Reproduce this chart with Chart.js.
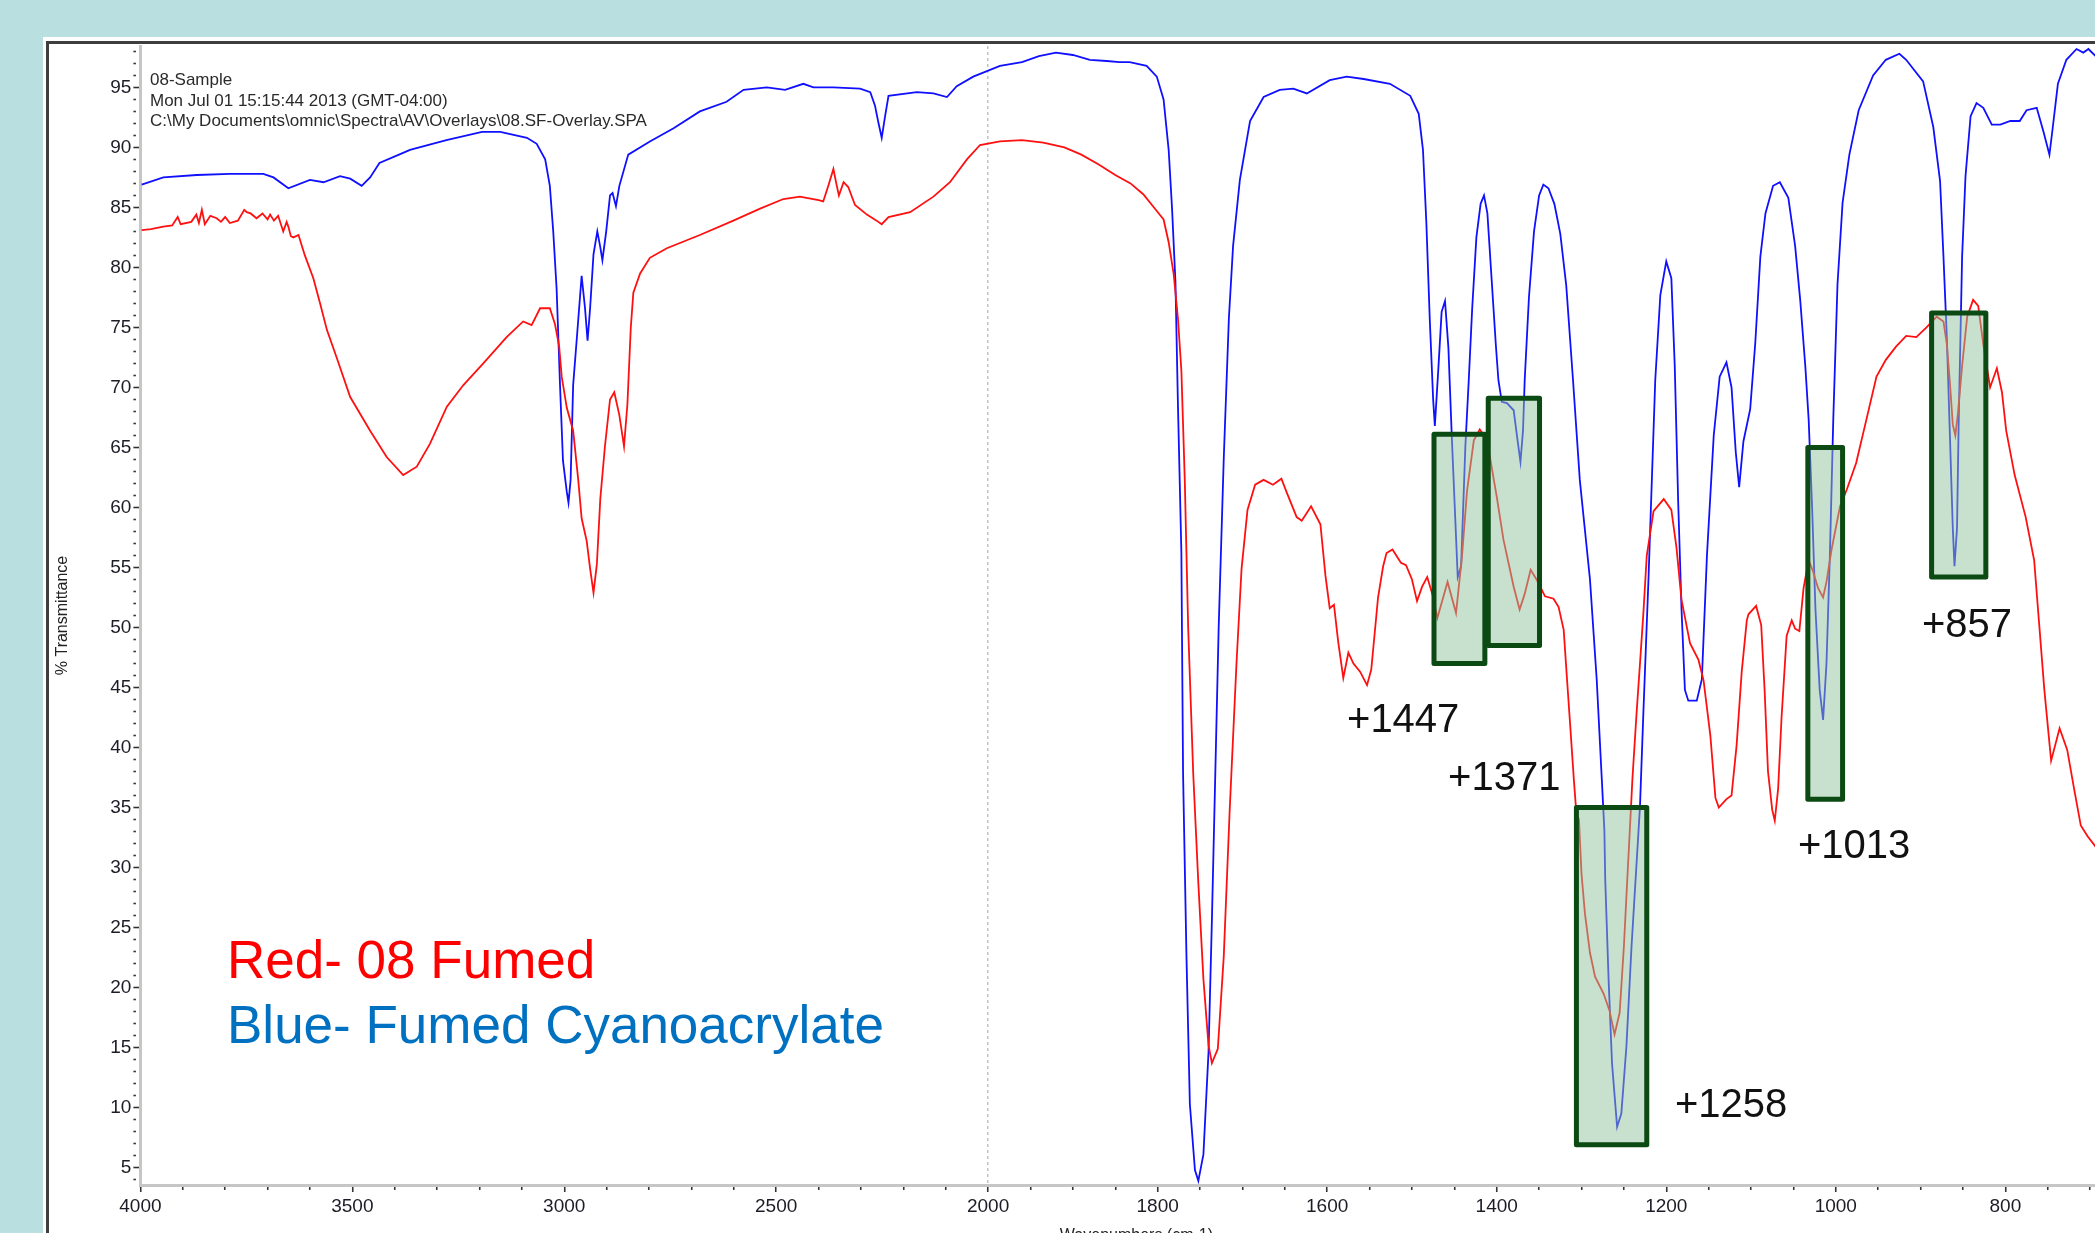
<!DOCTYPE html>
<html>
<head>
<meta charset="utf-8">
<script src="https://cdn.jsdelivr.net/npm/chart.js@4.4.1/dist/chart.umd.min.js"></script>
<style>
  html, body { margin: 0; padding: 0; width: 2095px; height: 1233px; overflow: hidden; background: #b9dfe1; }
  #panel { position: absolute; left: 43px; top: 37px; width: 2300px; height: 1400px; background: #ffffff; }
  #frame { position: absolute; left: 46px; top: 41px; width: 2300px; height: 1400px; border: 3px solid #3e3e3e; box-sizing: border-box; }
  #c { position: absolute; left: 0; top: 0; }
  .hdr { position: absolute; left: 150px; top: 70px; font: 17px "Liberation Sans", Arial, sans-serif; line-height: 20.5px; color: #2a2a2a; white-space: pre; }
  .leg { position: absolute; left: 227px; top: 927px; font: 53px "Liberation Sans", Arial, sans-serif; line-height: 65px; white-space: pre; }
</style>
</head>
<body>
<div id="panel"></div>
<div id="frame"></div>
<canvas id="c" width="2200" height="1280"></canvas>
<div class="hdr">08-Sample
Mon Jul 01 15:15:44 2013 (GMT-04:00)
C:\My Documents\omnic\Spectra\AV\Overlays\08.SF-Overlay.SPA</div>
<div class="leg"><span style="color:#ff0000">Red- 08 Fumed</span>
<span style="color:#0070c0">Blue- Fumed Cyanoacrylate</span></div>
<script>
// ---------------- data ----------------
const blueWavenumber = [3997,3946,3867,3789,3710,3686,3651,3600,3568,3529,3505,3478,3458,3436,3383,3364,3278,3194,3151,3088,3065,3045,3034,3026,3018,3010,3003,2994,2990,2985,2979,2969,2959,2951,2945,2939,2931,2922,2915,2910,2901,2892,2886,2878,2870,2849,2798,2742,2680,2617,2577,2522,2479,2436,2412,2365,2302,2278,2267,2259,2251,2243,2235,2168,2129,2097,2074,2035,1986,1960,1940,1920,1900,1880,1860,1845,1833,1813,1801,1793,1787,1783,1779,1776,1772,1770,1766,1762,1756,1752,1746,1740,1736,1732,1728,1722,1716,1711,1703,1691,1675,1656,1640,1624,1597,1577,1557,1526,1502,1492,1487,1483,1479,1475,1473,1469,1465,1461,1457,1453,1449,1446,1442,1437,1433,1429,1424,1419,1415,1411,1406,1401,1398,1394,1388,1380,1376,1372,1369,1367,1362,1356,1350,1345,1339,1332,1325,1318,1310,1302,1290,1282,1276,1273,1272,1268,1264,1258,1253,1247,1241,1235,1231,1227,1221,1217,1213,1207,1200,1194,1190,1186,1182,1178,1174,1164,1158,1152,1144,1137,1129,1123,1118,1114,1109,1101,1095,1089,1083,1074,1066,1056,1048,1042,1036,1032,1028,1024,1019,1015,1011,1007,1003,998,992,984,973,956,941,925,917,897,885,877,873,869,865,862,860,857,855,851,847,841,834,826,816,806,794,783,775,763,755,748,744,738,728,716,708,702,692];
const blueTransmittance = [86.9,87.5,87.7,87.8,87.8,87.5,86.6,87.3,87.1,87.6,87.4,86.8,87.5,88.7,89.5,89.8,90.6,91.3,91.3,90.8,90.3,89.0,86.8,83.0,78.2,70.2,63.9,61.3,60.4,62.3,70.2,74.7,79.3,76.6,73.9,76.6,81.1,83.0,81.7,80.6,83.0,86.0,86.2,85.1,86.8,89.4,90.5,91.6,93.0,93.8,94.8,95.0,94.8,95.3,95.0,95.0,94.9,94.6,93.5,92.1,90.8,92.6,94.3,94.6,94.5,94.2,95.1,95.9,96.8,97.1,97.6,97.9,97.7,97.3,97.2,97.1,97.1,96.8,95.9,94.0,89.8,84.9,78.8,68.4,56.2,37.8,22.6,10.3,4.8,3.9,6.1,14.6,25.6,37.8,50.0,64.1,75.7,81.8,87.3,92.2,94.2,94.8,94.9,94.5,95.6,95.9,95.7,95.3,94.3,92.8,89.8,83.7,75.7,69.0,66.8,71.4,76.3,77.2,73.3,65.9,59.2,54.2,55.1,65.1,70.6,76.5,82.5,85.3,86.0,84.5,79.0,73.5,70.6,68.8,68.7,68.1,65.9,63.8,66.4,70.6,77.5,83.0,86.0,86.9,86.6,85.3,82.8,78.5,70.6,62.3,54.0,45.6,37.3,33.1,29.0,20.6,13.7,8.4,9.5,15.1,23.4,30.4,35.1,42.9,54.0,62.3,70.6,77.7,80.5,79.1,71.8,60.6,51.5,44.8,43.9,43.9,45.7,56.0,66.0,70.9,72.1,70.0,64.6,61.7,65.5,68.2,73.7,80.9,84.5,86.8,87.1,85.8,81.8,77.3,71.8,67.3,60.1,51.5,44.8,42.3,47.0,56.0,67.3,78.6,85.4,89.4,93.1,96.0,97.3,97.8,97.3,95.5,91.7,87.2,80.9,74.1,65.1,58.3,55.1,58.3,67.3,80.9,87.6,92.6,93.7,93.3,91.9,91.9,92.2,92.2,93.1,93.3,91.3,89.4,91.7,95.3,97.3,98.2,97.9,98.2,97.5];

const redWavenumber = [3997,3975,3946,3925,3912,3905,3880,3868,3862,3855,3848,3835,3820,3810,3800,3789,3770,3755,3749,3740,3726,3712,3700,3694,3685,3675,3663,3655,3651,3645,3639,3627,3612,3592,3576,3560,3537,3505,3458,3419,3380,3348,3317,3277,3238,3191,3136,3097,3077,3057,3034,3022,3012,3006,2994,2979,2967,2959,2947,2939,2931,2923,2915,2904,2892,2882,2870,2859,2851,2843,2837,2821,2798,2758,2680,2601,2538,2483,2444,2400,2389,2377,2365,2357,2352,2341,2330,2314,2286,2263,2251,2235,2184,2129,2090,2050,2019,1986,1960,1935,1910,1890,1870,1850,1832,1817,1801,1793,1787,1781,1776,1772,1768,1764,1758,1752,1746,1740,1736,1729,1722,1715,1707,1701,1694,1685,1675,1664,1654,1648,1636,1630,1619,1608,1602,1597,1592,1587,1581,1575,1569,1561,1553,1548,1540,1534,1530,1523,1513,1507,1500,1494,1488,1482,1476,1470,1458,1448,1441,1435,1427,1420,1413,1408,1400,1392,1380,1373,1367,1360,1353,1343,1333,1327,1321,1317,1313,1309,1306,1303,1300,1296,1290,1284,1274,1267,1261,1255,1250,1246,1243,1240,1235,1231,1227,1223,1215,1203,1194,1188,1182,1172,1162,1156,1148,1142,1138,1129,1123,1117,1111,1105,1103,1094,1088,1084,1080,1075,1072,1068,1064,1058,1052,1048,1043,1038,1032,1027,1021,1015,1011,1005,995,987,976,964,952,941,929,917,905,893,881,873,869,865,862,859,856,851,845,838,832,826,818,810,804,799,789,776,766,760,754,746,736,727,719,711,703,692];
const redTransmittance = [83.1,83.2,83.4,83.5,84.2,83.6,83.8,84.4,83.7,84.8,83.6,84.3,84.1,83.8,84.2,83.7,83.9,84.8,84.6,84.5,84.1,84.5,84.0,84.4,83.9,84.3,83.0,83.8,83.4,82.6,82.5,82.7,81.0,79.1,77.0,74.8,72.5,69.2,66.4,64.2,62.7,63.4,65.3,68.4,70.2,72.0,74.2,75.5,75.2,76.6,76.6,75.3,73.4,70.9,68.3,66.4,62.3,59.1,57.2,54.9,52.9,55.3,60.7,65.1,69.0,69.6,67.7,65.1,68.6,75.0,77.9,79.5,80.8,81.6,82.7,83.9,84.9,85.7,85.9,85.6,85.5,86.8,88.2,86.8,86.0,87.1,86.7,85.2,84.4,83.9,83.6,84.2,84.6,85.9,87.1,89.0,90.2,90.5,90.6,90.4,90.0,89.4,88.6,87.7,87.0,86.1,84.7,84.0,82.1,79.4,75.7,71.4,62.3,50.0,37.8,28.7,20.7,15.2,13.7,14.9,22.6,34.8,47.0,54.9,59.8,61.9,62.3,61.9,62.4,61.3,59.2,58.9,60.1,58.6,54.3,51.6,51.9,48.8,45.8,47.9,47.0,46.3,45.2,46.5,52.5,55.1,56.2,56.5,55.4,55.2,54.0,52.2,53.4,54.2,52.8,50.8,53.8,51.2,55.9,61.4,65.6,66.5,65.8,64.2,60.9,57.3,53.4,51.5,52.8,54.8,54.0,52.6,52.4,51.7,49.8,45.6,41.5,37.3,34.5,34.0,29.5,26.2,22.9,20.9,19.5,18.1,16.1,17.9,23.4,29.0,33.1,37.3,42.9,47.0,51.2,56.0,59.7,60.7,59.8,56.7,52.3,48.7,47.3,45.6,41.0,35.8,35.0,35.7,36.0,40.2,46.3,50.6,51.1,51.8,50.2,44.8,38.0,34.8,33.9,36.6,42.5,49.3,50.6,49.9,49.7,53.3,55.6,54.7,53.3,52.5,53.8,56.5,60.1,61.5,63.7,67.3,70.9,72.3,73.4,74.3,74.2,75.0,75.9,75.5,73.6,70.0,66.9,66.0,67.8,71.8,75.9,77.3,76.8,73.6,70.0,71.6,69.6,66.4,62.7,59.2,55.6,50.2,44.8,38.9,41.6,39.8,36.6,33.5,32.6,31.6];

// highlighted peak regions (wavenumber span and %T span) and their labels
const boxHighWavenumber = [1474, 1410, 1306, 1033, 887];
const boxLowWavenumber  = [1414, 1349.5, 1223, 992, 823];
const boxTopT    = [66.1, 69.1, 35.0, 65.0, 76.2];
const boxBottomT = [47.0, 48.5, 6.9, 35.7, 54.2];
const peakLabels = ['+1447', '+1371', '+1258', '+1013', '+857'];
const peakLabelWavenumber = [1576.6, 1457.4, 1189.7, 1044.6, 898.3];
const peakLabelT = [42.25, 37.35, 10.15, 31.75, 50.15];

// axis ticks
const xMajorTicks = [4000, 3500, 3000, 2500, 2000, 1800, 1600, 1400, 1200, 1000, 800];
const yMajorTicks = [5, 10, 15, 20, 25, 30, 35, 40, 45, 50, 55, 60, 65, 70, 75, 80, 85, 90, 95];
const X_MAX = 4000, X_MIN = 650, X_SPLIT = 2000, X_COMPRESS = 0.5;
const Y_MIN = 3.55, Y_MAX = 98.45;

// ---------------- axis with the OMNIC-style scale change at 2000 cm-1 ----------------
class SplitWavenumberScale extends Chart.LinearScale {
  static id = 'splitWavenumber';
  _toU(v) {
    return v >= X_SPLIT ? (this.max - v) * X_COMPRESS
                        : (this.max - X_SPLIT) * X_COMPRESS + (X_SPLIT - v);
  }
  _fromU(u) {
    const uS = (this.max - X_SPLIT) * X_COMPRESS;
    return u <= uS ? this.max - u / X_COMPRESS : X_SPLIT - (u - uS);
  }
  getPixelForValue(v) {
    if (v === null || v === undefined || isNaN(v)) return NaN;
    return this.getPixelForDecimal(this._toU(v) / this._toU(this.min));
  }
  getValueForPixel(p) {
    return this._fromU(this.getDecimalForPixel(p) * this._toU(this.min));
  }
}
Chart.register(SplitWavenumberScale);

const xTickValues = [];
for (let w = X_MAX; w > X_SPLIT; w -= 100) xTickValues.push(w);
for (let w = X_SPLIT; w >= X_MIN; w -= 50) xTickValues.push(w);
const yTickValues = [];
for (let v = 4; v <= 98; v++) yTickValues.push(v);

const toPoints = (ws, ts) => ws.map((w, i) => ({ x: w, y: ts[i] }));

const FONT = '"Liberation Sans", Arial, sans-serif';
const TICK_FONT = { family: '"Liberation Sans Narrow", "Liberation Sans", Arial, sans-serif', size: 19 };

const peakBoxes = {
  id: 'peakBoxes',
  afterDatasetsDraw(chart) {
    const { ctx, scales: { x, y } } = chart;
    ctx.save();
    for (let i = 0; i < boxHighWavenumber.length; i++) {
      const x1 = x.getPixelForValue(boxHighWavenumber[i]);
      const x2 = x.getPixelForValue(boxLowWavenumber[i]);
      const y1 = y.getPixelForValue(boxTopT[i]);
      const y2 = y.getPixelForValue(boxBottomT[i]);
      ctx.fillStyle = 'rgba(145,193,157,0.5)';
      ctx.fillRect(x1, y1, x2 - x1, y2 - y1);
      ctx.lineWidth = 5;
      ctx.lineJoin = 'round';
      ctx.strokeStyle = '#0b4a12';
      ctx.strokeRect(x1, y1, x2 - x1, y2 - y1);
    }
    ctx.fillStyle = '#111111';
    ctx.font = '40px ' + FONT;
    ctx.textBaseline = 'middle';
    ctx.textAlign = 'left';
    for (let i = 0; i < peakLabels.length; i++) {
      ctx.fillText(peakLabels[i], x.getPixelForValue(peakLabelWavenumber[i]), y.getPixelForValue(peakLabelT[i]));
    }
    ctx.restore();
  }
};

Chart.defaults.font.family = FONT;

new Chart(document.getElementById('c'), {
  type: 'line',
  data: {
    datasets: [
      { label: 'Red- 08 Fumed', data: toPoints(redWavenumber, redTransmittance),
        borderColor: '#ff1010', borderWidth: 1.8, pointRadius: 0, fill: false, tension: 0 },
      { label: 'Blue- Fumed Cyanoacrylate', data: toPoints(blueWavenumber, blueTransmittance),
        borderColor: '#1010ff', borderWidth: 1.8, pointRadius: 0, fill: false, tension: 0 }
    ]
  },
  options: {
    responsive: false,
    animation: false,
    events: [],
    layout: { padding: { left: 0, top: 46, right: 67.5, bottom: 0 } },
    plugins: { legend: { display: false }, tooltip: { enabled: false }, title: { display: false } },
    scales: {
      x: {
        type: 'splitWavenumber',
        min: X_MIN, max: X_MAX, bounds: 'data',
        afterFit(s) { s.height = 95; },
        afterBuildTicks(s) { s.ticks = xTickValues.map(v => ({ value: v })); },
        ticks: {
          autoSkip: false, maxRotation: 0, minRotation: 0, padding: 3,
          color: '#1c1c26', font: TICK_FONT,
          callback: v => xMajorTicks.includes(v) ? String(v) : ''
        },
        grid: {
          drawOnChartArea: true,
          color: c => (c.tick && c.tick.value === X_SPLIT) ? '#c2c2c2' : 'rgba(0,0,0,0)',
          lineWidth: 1.5,
          tickLength: 7,
          tickColor: '#333333',
          tickWidth: 1.6,
          tickBorderDash: c => (c.tick && xMajorTicks.includes(c.tick.value)) ? [] : [3, 30]
        },
        border: { display: true, color: '#c6c6c6', width: 3, dash: [3, 3] },
        title: { display: true, text: 'Wavenumbers (cm-1)', color: '#222', font: { size: 16, family: FONT }, padding: { top: 0, bottom: 35 } }
      },
      y: {
        type: 'linear',
        min: Y_MIN, max: Y_MAX, bounds: 'data',
        afterFit(s) { s.width = 140.4; },
        afterBuildTicks(s) { s.ticks = yTickValues.map(v => ({ value: v })); },
        ticks: {
          autoSkip: false, padding: 2,
          color: '#1c1c26', font: TICK_FONT,
          callback: v => yMajorTicks.includes(v) ? String(v) : ''
        },
        grid: {
          drawOnChartArea: false,
          tickLength: 7,
          tickColor: '#333333',
          tickWidth: 1.6,
          tickBorderDash: c => (c.tick && yMajorTicks.includes(c.tick.value)) ? [] : [2.5, 30]
        },
        border: { display: true, color: '#c6c6c6', width: 3 },
        title: { display: true, text: '% Transmittance', color: '#222', font: { size: 16, family: FONT }, padding: { top: 53, bottom: 0 } }
      }
    }
  },
  plugins: [peakBoxes]
});
</script>
</body>
</html>
